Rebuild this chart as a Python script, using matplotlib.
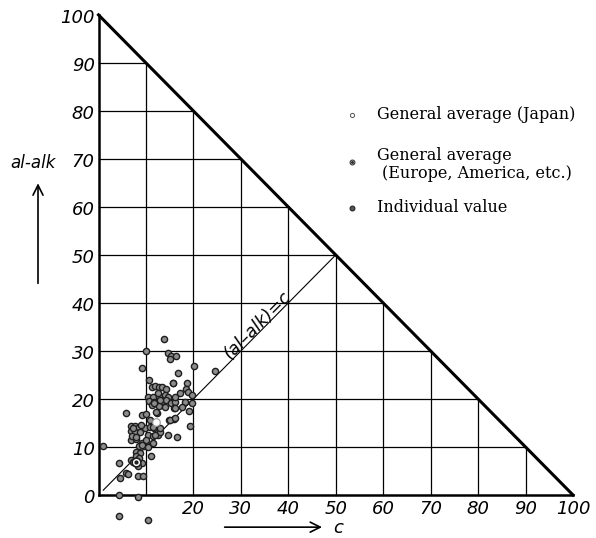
import matplotlib.pyplot as plt

# individual values (c, al-alk)
c_vals = [13.7, 10.1, 9.2, 14.7, 15.3, 16.3, 15.1, 20.2, 16.7, 24.6,
          10.6, 15.6, 18.7, 11.2, 11.9, 12.8, 13.3, 14.3, 17.2, 18.4,
          18.9, 19.6, 10.5, 11.5, 12.8, 14.0, 14.7, 10.7, 11.7, 13.3,
          14.3, 15.3, 16.1, 18.2, 11.2, 12.8, 14.0, 15.9, 17.5, 19.1,
          5.9, 9.1, 10.1, 12.3, 10.9, 15.9, 14.9, 19.3, 6.9, 7.7,
          8.4, 6.9, 7.7, 8.7, 9.8, 10.8, 11.7, 10.5, 11.4, 12.6,
          12.9, 6.9, 8.0, 9.1, 10.1, 11.5, 14.6, 16.6, 0.9, 8.6,
          9.6, 10.5, 8.0, 8.7, 8.0, 11.0, 4.3, 6.9, 9.1, 8.4,
          5.9, 4.5, 8.4, 9.4, 4.3, 8.3, 4.4, 10.4, 15.8, 12.6,
          16.1, 12.9, 11.8, 19.8, 16.1, 12.2, 11.5, 12.9, 15.1, 16.1,
          7.3, 9.0, 7.0, 8.0, 12.0, 9.1, 7.2, 8.5, 6.3]
alk_vals = [32.4, 30.0, 26.4, 29.5, 29.0, 29.0, 28.3, 26.9, 25.5, 25.9,
            24.0, 23.4, 23.4, 22.4, 22.6, 22.4, 22.4, 22.0, 21.3, 22.0,
            21.5, 20.8, 20.5, 20.5, 20.6, 20.8, 20.5, 19.6, 19.4, 19.6,
            19.8, 19.1, 19.4, 19.4, 18.8, 18.5, 18.4, 18.1, 18.3, 17.4,
            17.0, 16.7, 16.9, 17.0, 15.6, 15.8, 15.6, 14.4, 14.4, 14.4,
            13.9, 13.4, 13.2, 13.2, 13.9, 14.2, 13.9, 12.5, 12.3, 12.5,
            13.2, 11.5, 11.6, 10.9, 11.5, 10.9, 12.5, 12.0, 10.1, 10.1,
            10.1, 9.9, 9.0, 8.7, 8.1, 8.1, 6.6, 7.2, 6.7, 6.0,
            4.5, 3.5, 4.0, 4.0, 0.0, -0.5, -4.4, -5.2, 23.3, 21.2,
            20.5, 19.8, 19.1, 19.1, 18.1, 17.2, 14.2, 13.9, 15.6, 16.0,
            14.0, 14.5, 12.3, 12.0, 12.4, 10.4, 6.9, 7.8, 4.4]

japan_avg = (12.2, 15.3)
europe_avg = (8.0, 6.9)

grid_vals = [10, 20, 30, 40, 50, 60, 70, 80, 90]
x_ticks = [20, 30, 40, 50, 60, 70, 80, 90, 100]
y_ticks = [0, 10, 20, 30, 40, 50, 60, 70, 80, 90, 100]

fig = plt.figure(figsize=(5.96, 5.38), dpi=100)
ax = fig.add_axes([0, 0, 1, 1])
ax.set_xlim(-20.76, 104.85)
ax.set_ylim(-8.96, 103.1)
ax.axis('off')

# grid inside the triangle c + (al-alk) <= 100
for g in grid_vals:
    ax.plot([g, g], [0, 100 - g], color='k', lw=0.9)
    ax.plot([0, 100 - g], [g, g], color='k', lw=0.9)

ax.plot([0, 0], [0, 100], color='k', lw=1.8)
ax.plot([0, 100], [0, 0], color='k', lw=1.8)
ax.plot([0, 100], [100, 0], color='k', lw=2.2)

# (al-alk) = c
ax.plot([1, 50], [1, 50], color='k', lw=0.8)
ax.text(33.5, 35.5, '(al–alk)=c', rotation=45.3, style='italic', fontsize=12.5,
        ha='center', va='center', rotation_mode='anchor')

ax.scatter(c_vals, alk_vals, s=20, c='#8c8c8c', edgecolors='#1e1e1e',
           linewidths=1.0, zorder=3)
ax.scatter(*japan_avg, s=30, c='white', edgecolors='#999999', linewidths=0.8, zorder=4)
ax.scatter(*europe_avg, s=40, c='white', edgecolors='#1e1e1e', linewidths=1.2, zorder=4)
ax.scatter(*europe_avg, s=4, c='#1e1e1e', zorder=5)

for v in y_ticks:
    ax.text(-0.8, v - 0.7, str(v), ha='right', va='center', style='italic', fontsize=13)
for v in x_ticks:
    ax.text(v, -2.9, str(v), ha='center', va='center', style='italic', fontsize=13)

# axis names with arrows
ax.text(-13.8, 69.2, 'al-alk', ha='center', va='center', style='italic', fontsize=12)
ax.annotate('', xy=(-12.75, 65.5), xytext=(-12.75, 43.5),
            arrowprops=dict(arrowstyle='->', lw=1.2, mutation_scale=18, color='k'))
ax.text(49.4, -6.9, 'c', ha='left', va='center', style='italic', fontsize=13)
ax.annotate('', xy=(47.7, -6.7), xytext=(26, -6.7),
            arrowprops=dict(arrowstyle='->', lw=1.2, mutation_scale=18, color='k'))

# legend
serif = dict(family='DejaVu Serif', fontsize=11.5, va='center', ha='left')
ax.scatter(53.5, 79.2, s=9, c='white', edgecolors='#555555', linewidths=0.7)
ax.text(58.7, 79.2, 'General average (Japan)', **serif)
ax.scatter(53.5, 69.4, s=12, c='white', edgecolors='#333333', linewidths=0.8)
ax.scatter(53.5, 69.4, s=1.5, c='#333333')
ax.text(58.7, 70.8, 'General average', **serif)
ax.text(59.7, 67.0, '(Europe, America, etc.)', **serif)
ax.scatter(53.5, 59.8, s=12, c='#555555', edgecolors='#222222', linewidths=0.8)
ax.text(58.7, 59.8, 'Individual value', **serif)

fig.savefig('out.png', dpi=100)
